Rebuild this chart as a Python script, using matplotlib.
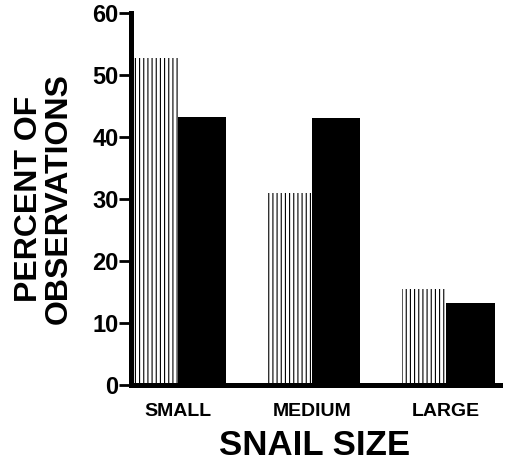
import matplotlib.pyplot as plt
import numpy as np

# data
categories = ["SMALL", "MEDIUM", "LARGE"]
hatched_vals = [52.7, 31.0, 15.5]
black_vals = [43.3, 43.0, 13.2]
yticks = [0, 10, 20, 30, 40, 50, 60]

plt.rcParams['font.family'] = ['Liberation Sans', 'DejaVu Sans']
plt.rcParams['font.weight'] = 'bold'
plt.rcParams['hatch.linewidth'] = 0.8

fig = plt.figure(figsize=(5.08, 4.66), dpi=100)
ax = fig.add_axes([0.258, 0.174, 0.726, 0.798])

x = np.arange(len(categories))
ax.bar(x - 0.165, hatched_vals, width=0.33, color='white', edgecolor='black',
       linewidth=0, hatch='||||')
ax.bar(x + 0.18, black_vals, width=0.36, color='black', linewidth=0)

ax.set_xlim(-0.35, 2.40)
ax.set_ylim(0, 60)
ax.set_yticks(yticks)
ax.set_yticklabels([str(t) for t in yticks], fontsize=17, fontweight='bold')
ax.set_xticks(x)
ax.set_xticklabels(categories, fontsize=14, fontweight='bold')
ax.tick_params(axis='y', length=9, width=2, pad=0, direction='out')
ax.tick_params(axis='x', length=0, pad=13)

for s in ['top', 'right']:
    ax.spines[s].set_visible(False)
for s in ['left', 'bottom']:
    ax.spines[s].set_linewidth(3.6)

fig.text(0.087, 0.573, "PERCENT OF\nOBSERVATIONS", rotation=90, ha='center', va='center',
         fontsize=23, fontweight='bold', linespacing=1.0)
fig.text(0.62, 0.043, "SNAIL SIZE", ha='center', va='center', fontsize=25, fontweight='bold')

fig.savefig("out.png", dpi=100)
